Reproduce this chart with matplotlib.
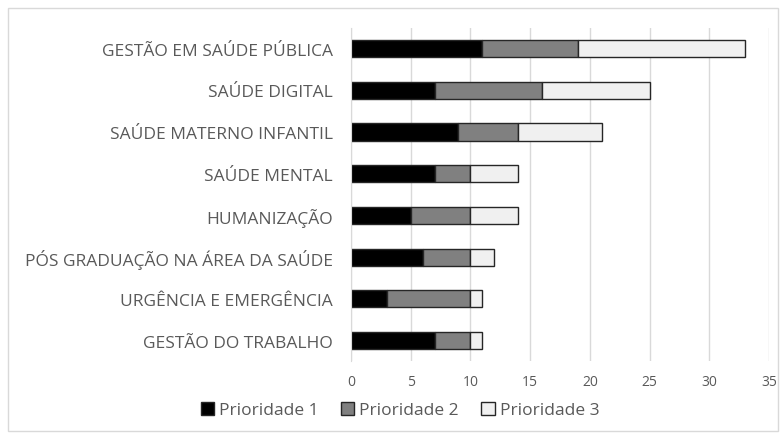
import matplotlib.pyplot as plt
from matplotlib.patches import Rectangle

# categories top to bottom as they appear
categories = ['GESTÃO EM SAÚDE PÚBLICA', 'SAÚDE DIGITAL', 'SAÚDE MATERNO INFANTIL',
              'SAÚDE MENTAL', 'HUMANIZAÇÃO', 'PÓS GRADUAÇÃO NA ÁREA DA SAÚDE',
              'URGÊNCIA E EMERGÊNCIA', 'GESTÃO DO TRABALHO']
prioridade1 = [11, 7, 9, 7, 5, 6, 3, 7]
prioridade2 = [8, 9, 5, 3, 5, 4, 7, 3]
prioridade3 = [14, 9, 7, 4, 4, 2, 1, 1]
xticks = [0, 5, 10, 15, 20, 25, 30, 35]

plt.rcParams['font.family'] = ['Open Sans', 'DejaVu Sans']
text_color = '#595959'

fig = plt.figure(figsize=(7.83, 4.39), dpi=100)
ax = fig.add_axes([0.4483, 0.1745, 0.5338, 0.7599])

# outer chart frame
fig.patches.append(Rectangle((8 / 783, 1 - 432 / 439), 770 / 783, 423 / 439,
                             transform=fig.transFigure, fill=False,
                             edgecolor='#d9d9d9', linewidth=1))

y = list(range(len(categories)))
left2 = [a for a in prioridade1]
left3 = [a + b for a, b in zip(prioridade1, prioridade2)]
h = 0.41
ax.barh(y, prioridade1, height=h, color='#000000', edgecolor='#262626', linewidth=1,
        label='Prioridade 1', zorder=3)
ax.barh(y, prioridade2, left=left2, height=h, color='#808080', edgecolor='#262626',
        linewidth=1, label='Prioridade 2', zorder=3)
ax.barh(y, prioridade3, left=left3, height=h, color='#f0f0f0', edgecolor='#262626',
        linewidth=1, label='Prioridade 3', zorder=3)

ax.set_ylim(len(categories) - 0.5, -0.5)
ax.set_xlim(0, 35)
ax.set_xticks(xticks)
ax.set_yticks(y)
ax.set_yticklabels(categories, fontsize=12.5, color=text_color)
ax.tick_params(axis='x', labelsize=10, colors=text_color, length=0, pad=9)
ax.tick_params(axis='y', length=0, pad=13)
ax.grid(axis='x', color='#d9d9d9', linewidth=1, zorder=0)
for s in ['top', 'right', 'bottom']:
    ax.spines[s].set_visible(False)
ax.spines['left'].set_color('#d9d9d9')
ax.spines['left'].set_zorder(4)

leg = ax.legend(loc='center', bbox_to_anchor=(400 / 783, 1 - 411 / 439),
                bbox_transform=fig.transFigure, ncol=3, frameon=False,
                fontsize=12.5, handlelength=0.75, handleheight=0.75,
                handletextpad=0.3, columnspacing=1.3)
for t in leg.get_texts():
    t.set_color(text_color)

fig.savefig('out.png', dpi=100)
